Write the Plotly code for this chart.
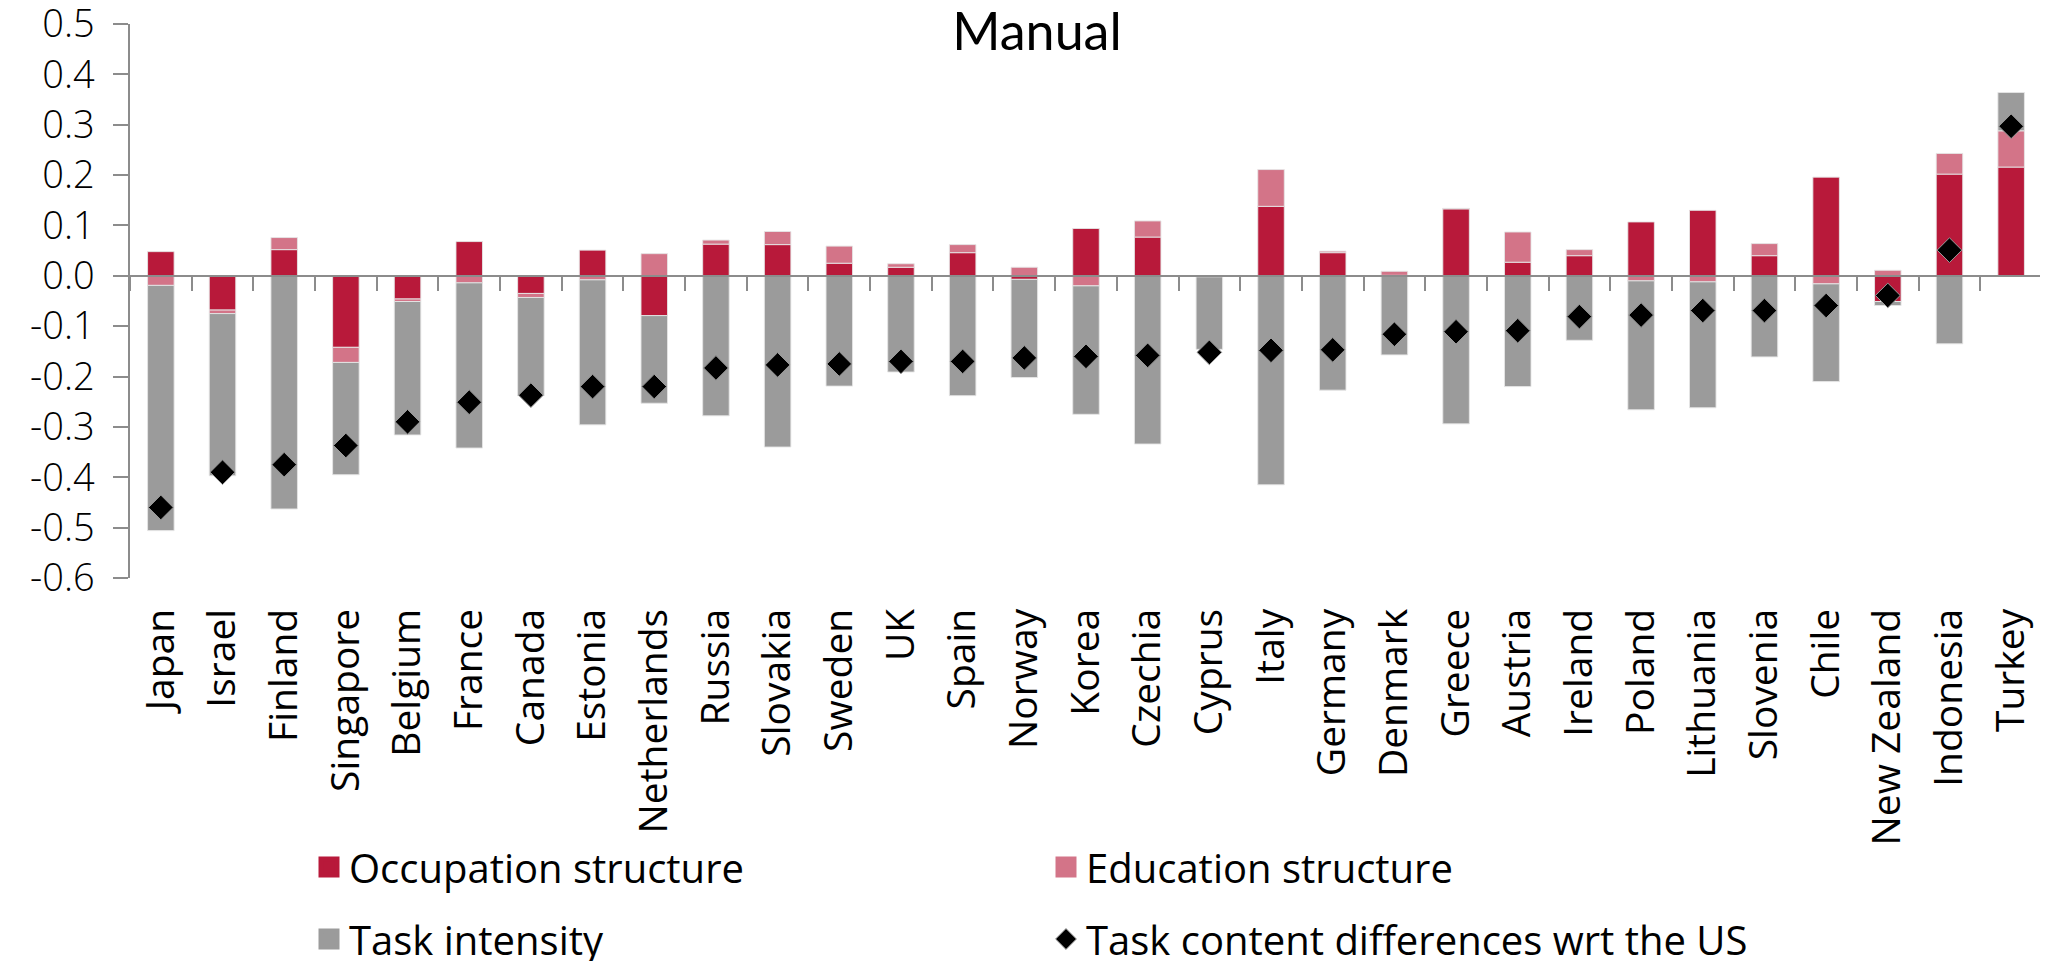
import plotly.graph_objects as go

countries = ["Japan", "Israel", "Finland", "Singapore", "Belgium", "France", "Canada", "Estonia",
             "Netherlands", "Russia", "Slovakia", "Sweden", "UK", "Spain", "Norway", "Korea",
             "Czechia", "Cyprus", "Italy", "Germany", "Denmark", "Greece", "Austria", "Ireland",
             "Poland", "Lithuania", "Slovenia", "Chile", "New Zealand", "Indonesia", "Turkey"]

occupation = [0.048, -0.068, 0.052, -0.142, -0.046, 0.068, -0.035, 0.051,
              -0.079, 0.063, 0.062, 0.025, 0.017, 0.046, -0.007, 0.094,
              0.077, -0.002, 0.138, 0.046, 0.001, 0.133, 0.027, 0.040,
              0.107, 0.130, 0.040, 0.196, -0.051, 0.202, 0.216]

education = [-0.019, -0.007, 0.024, -0.030, -0.005, -0.014, -0.008, -0.008,
             0.044, 0.008, 0.026, 0.034, 0.007, 0.016, 0.017, -0.020,
             0.032, 0.000, 0.073, 0.003, 0.008, 0.001, 0.060, 0.012,
             -0.010, -0.012, 0.024, -0.016, 0.011, 0.041, 0.072]

task_intensity = [-0.487, -0.322, -0.463, -0.223, -0.265, -0.328, -0.195, -0.288,
                  -0.174, -0.278, -0.340, -0.219, -0.191, -0.238, -0.195, -0.255,
                  -0.334, -0.144, -0.415, -0.227, -0.157, -0.294, -0.220, -0.128,
                  -0.256, -0.250, -0.161, -0.194, -0.008, -0.135, 0.076]

task_content = [-0.460, -0.390, -0.375, -0.337, -0.290, -0.251, -0.237, -0.220,
                -0.220, -0.183, -0.177, -0.175, -0.170, -0.170, -0.163, -0.160,
                -0.158, -0.152, -0.148, -0.147, -0.116, -0.111, -0.109, -0.081,
                -0.078, -0.069, -0.069, -0.059, -0.039, 0.051, 0.297]

y_tickvals = [-0.6, -0.5, -0.4, -0.3, -0.2, -0.1, 0.0, 0.1, 0.2, 0.3, 0.4, 0.5]
y_ticktext = ["-0.6", "-0.5", "-0.4", "-0.3", "-0.2", "-0.1", "0.0", "0.1", "0.2", "0.3", "0.4", "0.5"]

C_OCC = "#B8193A"
C_EDU = "#D37488"
C_TASK = "#9B9B9B"
AX = "#8C8C8C"

fig = go.Figure()

bar_line = dict(color="rgba(230,230,230,0.9)", width=1)
fig.add_trace(go.Bar(x=countries, y=occupation, name="Occupation structure",
                     marker=dict(color=C_OCC, line=bar_line), showlegend=False))
fig.add_trace(go.Bar(x=countries, y=education, name="Education structure",
                     marker=dict(color=C_EDU, line=bar_line), showlegend=False))
fig.add_trace(go.Bar(x=countries, y=task_intensity, name="Task intensity",
                     marker=dict(color=C_TASK, line=bar_line), showlegend=False))
fig.add_trace(go.Scatter(x=countries, y=task_content, mode="markers",
                         name="Task content differences wrt the US",
                         marker=dict(symbol="diamond", size=19, color="black",
                                     line=dict(color="#9A9A9A", width=1)),
                         showlegend=False))

# zero-line axis carrier (invisible)
fig.add_trace(go.Scatter(x=countries, y=[0] * len(countries), xaxis="x2", mode="markers",
                         marker=dict(opacity=0), showlegend=False, hoverinfo="skip"))

# legend proxies
fig.add_trace(go.Scatter(x=[None], y=[None], mode="markers", name="Occupation structure",
                         marker=dict(symbol="square", size=16, color=C_OCC,
                                     line=dict(color=C_OCC, width=5)), legend="legend"))
fig.add_trace(go.Scatter(x=[None], y=[None], mode="markers", name="Education structure",
                         marker=dict(symbol="square", size=16, color=C_EDU,
                                     line=dict(color=C_EDU, width=5)), legend="legend"))
fig.add_trace(go.Scatter(x=[None], y=[None], mode="markers", name="Task intensity",
                         marker=dict(symbol="square", size=16, color=C_TASK,
                                     line=dict(color=C_TASK, width=5)), legend="legend2"))
fig.add_trace(go.Scatter(x=[None], y=[None], mode="markers",
                         name="Task content differences wrt the US",
                         marker=dict(symbol="diamond", size=16, color="black",
                                     line=dict(color="#9A9A9A", width=1)), legend="legend2"))

n = len(countries)
legend_font = dict(family="Open Sans, Lato, sans-serif", size=40, color="black")

# figure is placed by the page with an 8px body margin; size it to end at the window edge
W, H = 2040, 953
L, R, T, B = 122, 6, 16, 383
pw = W - L - R
ph = H - T - B
plot_bottom = H - B

fig.update_layout(
    width=W, height=H,
    margin=dict(l=L, r=R, t=T, b=B, autoexpand=False),
    paper_bgcolor="white", plot_bgcolor="white",
    barmode="relative", bargap=0.57,
    title=dict(text="Manual", x=(1029 - L) / pw, xref="paper", xanchor="center",
               y=1 - 24 / H, yref="container", yanchor="middle",
               font=dict(family="Lato, Open Sans, sans-serif", size=52, color="black")),
    xaxis=dict(type="category", categoryorder="array", categoryarray=countries,
               range=[-0.5, n - 0.5], showline=False, ticks="", showgrid=False,
               zeroline=False, tickangle=-90, ticklabelstandoff=22, automargin=False,
               tickfont=dict(family="Open Sans, DejaVu Sans, sans-serif", size=39, color="black")),
    xaxis2=dict(type="category", categoryorder="array", categoryarray=countries,
                overlaying="x", anchor="free", position=0.6 / 1.1, automargin=False,
                range=[-0.5, n - 0.5], showline=True, linecolor=AX, linewidth=1.5,
                ticks="outside", ticklen=14, tickwidth=1.5, tickcolor=AX,
                tickson="boundaries", showticklabels=False, showgrid=False, zeroline=False),
    yaxis=dict(range=[-0.6001, 0.5001], tickvals=y_tickvals, ticktext=y_ticktext,
               showline=True, linecolor=AX, linewidth=1.5, ticks="outside", ticklen=15,
               tickwidth=1.5, tickcolor=AX, showgrid=False, zeroline=False,
               ticklabelstandoff=11, ticklabeloverflow="allow", automargin=False,
               tickfont=dict(family="Open Sans, Lato, sans-serif", size=38, color="black",
                             weight=300)),
    legend=dict(orientation="h", x=(301 - L) / pw, xanchor="left",
                y=(plot_bottom - 859) / ph, yanchor="middle", entrywidth=692,
                entrywidthmode="pixels", font=legend_font, bgcolor="rgba(0,0,0,0)"),
    legend2=dict(orientation="h", x=(301 - L) / pw, xanchor="left",
                 y=(plot_bottom - 931) / ph, yanchor="middle", entrywidth=692,
                 entrywidthmode="pixels", font=legend_font, bgcolor="rgba(0,0,0,0)"),
)

fig.write_html("out.html")
